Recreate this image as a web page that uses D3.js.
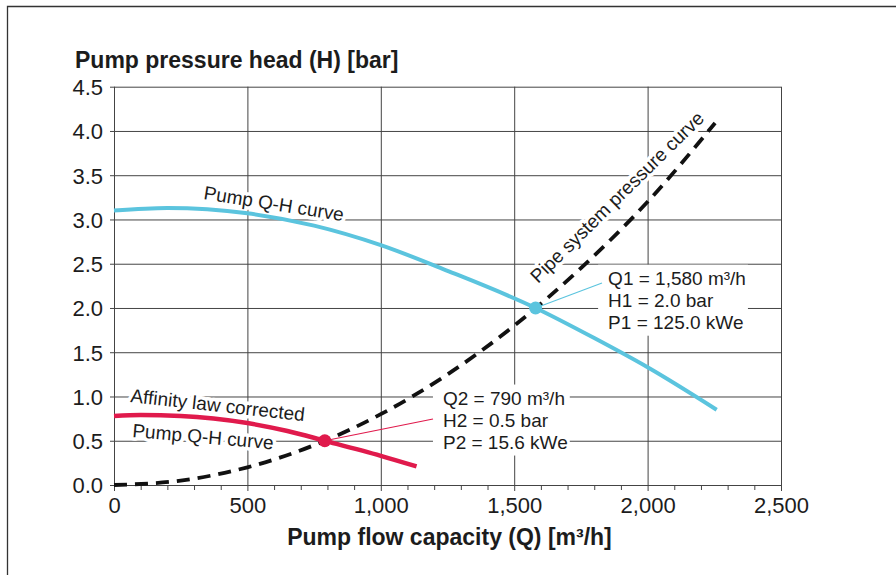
<!DOCTYPE html>
<html>
<head>
<meta charset="utf-8">
<script src="https://cdn.jsdelivr.net/npm/d3@7"></script>
<style>
  body { margin: 0; background: #fff; }
  text { font-family: "Liberation Sans", Arial, sans-serif; }
</style>
</head>
<body>
<div id="chart"></div>
<script>
// pump curve at full speed
var pumpQ = [0, 200, 500, 750, 1000, 1250, 1580, 1800, 2000, 2259];
var pumpH = [3.10, 3.13, 3.07, 2.93, 2.71, 2.42, 2.00, 1.66, 1.33, 0.85];

// affinity law corrected pump curve
var affQ = [0, 100, 250, 500, 650, 790, 1000, 1134];
var affH = [0.78, 0.79, 0.78, 0.70, 0.61, 0.50, 0.33, 0.21];

// pipe system pressure curve
var pipeQ = [0, 250, 500, 750, 1000, 1250, 1500, 1750, 2000, 2253];
var pipeH = [0, 0.05, 0.20, 0.45, 0.80, 1.25, 1.80, 2.45, 3.20, 4.09];

// operating points
var op1 = {q: 1580, h: 2.0, lines: ["Q1 = 1,580 m\u00b3/h", "H1 = 2.0 bar", "P1 = 125.0 kWe"]};
var op2 = {q: 790, h: 0.5, lines: ["Q2 = 790 m\u00b3/h", "H2 = 0.5 bar", "P2 = 15.6 kWe"]};

var xTicks = [0, 500, 1000, 1500, 2000, 2500];
var yTicks = [0, 0.5, 1.0, 1.5, 2.0, 2.5, 3.0, 3.5, 4.0, 4.5];

var blue = "#5bc4de";
var red = "#e01a4c";
var ink = "#1c1c1c";

var width = 896, height = 575;
var margin = {top: 86.7, right: 115, bottom: 90, left: 114};
var plotW = width - margin.left - margin.right;
var plotH = height - margin.top - margin.bottom;

var svg = d3.select("#chart").append("svg")
  .attr("width", width)
  .attr("height", height);

// outer frame
svg.append("path")
  .attr("d", "M7.5,580 V6.5 H900")
  .attr("fill", "none")
  .attr("stroke", "#333")
  .attr("stroke-width", 1.3);

var x = d3.scaleLinear().domain([0, 2500]).range([margin.left, margin.left + plotW]);
var y = d3.scaleLinear().domain([0, 4.5]).range([margin.top + plotH, margin.top]);

// horizontal grid + y labels
var yAxis = svg.append("g")
  .attr("transform", `translate(${x(2500)},0)`)
  .call(d3.axisLeft(y).tickValues(yTicks).tickSize(plotW + 4).tickPadding(7).tickFormat(d3.format(".1f")));
yAxis.select(".domain").remove();
yAxis.selectAll("line").attr("stroke", "#444").attr("stroke-width", 1);
yAxis.selectAll("text")
  .attr("fill", ink)
  .style("font-size", "22px")
  .attr("dy", "0.36em");

// vertical grid + x labels
var xAxis = svg.append("g")
  .attr("transform", `translate(0,${y(4.5)})`)
  .call(d3.axisBottom(x).tickValues(xTicks).tickSize(plotH + 6).tickPadding(6).tickFormat(d3.format(",")));
xAxis.select(".domain").remove();
xAxis.selectAll("line").attr("stroke", "#444").attr("stroke-width", 1);
xAxis.selectAll("text")
  .attr("fill", ink)
  .style("font-size", "22px");

// minor ticks on the flow axis
var minor = d3.range(100, 2500, 100).filter(d => d % 500 != 0);
var xMinor = svg.append("g")
  .attr("transform", `translate(0,${y(0)})`)
  .call(d3.axisBottom(x).tickValues(minor).tickSize(5).tickFormat(""));
xMinor.select(".domain").remove();
xMinor.selectAll("line").attr("stroke", "#444");

// axis titles
svg.append("text")
  .attr("x", 75)
  .attr("y", 68)
  .attr("fill", ink)
  .style("font-size", "23px")
  .style("font-weight", "bold")
  .text("Pump pressure head (H) [bar]");

svg.append("text")
  .attr("x", (x(0) + x(2500)) / 2 + 2)
  .attr("y", 545)
  .attr("text-anchor", "middle")
  .attr("fill", ink)
  .style("font-size", "23px")
  .style("font-weight", "bold")
  .text("Pump flow capacity (Q) [m\u00b3/h]");

// operating point text blocks, white box hides the grid behind them
function infoBlock(p, qx, hy) {
  var g = svg.append("g").attr("transform", `translate(${x(qx)},${y(hy)})`);
  var box = g.append("rect").attr("fill", "#fff");
  var t = g.append("text")
    .attr("fill", ink)
    .style("font-size", "19px");
  t.selectAll("tspan")
    .data(p.lines)
    .enter().append("tspan")
    .attr("x", 0)
    .attr("y", (d, i) => i * 22)
    .text(d => d);
  var bb = t.node().getBBox();
  box.attr("x", bb.x - 10).attr("y", bb.y - 3)
    .attr("width", bb.width + 12).attr("height", bb.height + 6);
  return g;
}

// rotated curve labels with white halo
var labels = svg.append("g");
function curveLabel(txt, px, py, angle) {
  labels.append("text")
    .attr("transform", `translate(${px},${py}) rotate(${angle})`)
    .attr("fill", ink)
    .attr("stroke", "#fff")
    .attr("stroke-width", 7)
    .attr("stroke-linejoin", "round")
    .attr("paint-order", "stroke")
    .style("font-size", "19px")
    .text(txt);
}
curveLabel("Pump Q-H curve", 203, 199, 9);
curveLabel("Pipe system pressure curve", 538, 284, -44.5);
curveLabel("Affinity law corrected", 130, 402, 6.3);
curveLabel("Pump Q-H curve", 132, 437, 5);

infoBlock(op1, 1852, 2.263);
infoBlock(op2, 1233, 0.909);

var line = d3.line()
  .x(d => x(d[0]))
  .y(d => y(d[1]))
  .curve(d3.curveMonotoneX);

svg.append("path")
  .datum(d3.zip(pipeQ, pipeH))
  .attr("fill", "none")
  .attr("stroke", "#111")
  .attr("stroke-width", 3.8)
  .attr("stroke-dasharray", "13,8")
  .attr("d", line);

svg.append("path")
  .datum(d3.zip(pumpQ, pumpH))
  .attr("fill", "none")
  .attr("stroke", blue)
  .attr("stroke-width", 4)
  .attr("d", line);

svg.append("path")
  .datum(d3.zip(affQ, affH))
  .attr("fill", "none")
  .attr("stroke", red)
  .attr("stroke-width", 4.5)
  .attr("d", line);

// leader lines and points
svg.append("line")
  .attr("x1", x(op1.q)).attr("y1", y(op1.h))
  .attr("x2", 602).attr("y2", 283)
  .attr("stroke", blue).attr("stroke-width", 1.2);
svg.append("line")
  .attr("x1", x(op2.q)).attr("y1", y(op2.h))
  .attr("x2", 433).attr("y2", 419)
  .attr("stroke", red).attr("stroke-width", 1.2);

svg.append("circle")
  .attr("cx", x(op1.q)).attr("cy", y(op1.h)).attr("r", 6.5)
  .attr("fill", blue);
svg.append("circle")
  .attr("cx", x(op2.q)).attr("cy", y(op2.h)).attr("r", 6.5)
  .attr("fill", red);
</script>
</body>
</html>
